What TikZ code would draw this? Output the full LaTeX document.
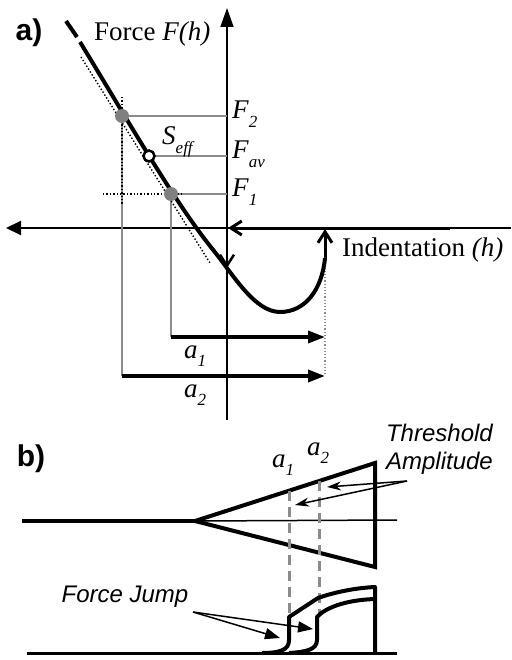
\documentclass[tikz,border=0pt]{standalone}
\usepackage{fontspec}
\setmainfont{Liberation Serif}
\setsansfont{Liberation Sans}
\usetikzlibrary{arrows.meta}
\newcommand\lsub[1]{\raisebox{-0.32em}{\fontsize{17}{20}\selectfont\itshape #1}}
\tikzset{
  lbl/.style={inner sep=0pt, font=\fontsize{27}{30}\selectfont},
  sanslbl/.style={inner sep=0pt, font=\fontsize{24}{28}\selectfont\sffamily\itshape},
  panel/.style={inner sep=0pt, font=\fontsize{30}{34}\selectfont\sffamily\bfseries},
  curve/.style={line width=4pt, line join=round},
  gline/.style={draw=black!45, line width=1.2pt},
  dotline/.style={dotted, line width=1.4pt},
  barb/.style={-{Straight Barb[length=11pt,width=14pt]}},
  bigtri/.style={-{Triangle[length=17pt,width=12pt]}},
  gdash/.style={draw=black!45, line width=3pt, dash pattern=on 10pt off 6pt},
  thinarrow/.style={line width=1.5pt, -{Stealth[length=14pt,width=9pt]}},
  jumparrow/.style={line width=1.5pt, -{Triangle[length=15pt,width=11pt]}}
}
\begin{document}
\begin{tikzpicture}[x=1pt,y=-1pt]
\useasboundingbox (0,0) rectangle (511,660);
% ---------- panel a ----------
\coordinate (O) at (227,228);
\coordinate (Vtop) at (227,8);
\coordinate (Vbot) at (227,420);
\coordinate (Hleft) at (6,228);
\coordinate (Hright) at (511,228);
\coordinate (Hthick) at (450,228);
\coordinate (Up) at (325,258);
\coordinate (UpTip) at (325,229);
\coordinate (Rj) at (325,228);
\coordinate (OTip) at (228,228);
\coordinate (Down) at (227,268);
\coordinate (P2) at (122,116);
\coordinate (Pav) at (149,156);
\coordinate (P1) at (171,194);
\coordinate (Ax2) at (227,116);
\coordinate (Axav) at (227,156);
\coordinate (Ax1) at (227,194);
\coordinate (A1s) at (171,337);
\coordinate (A1e) at (325,337);
\coordinate (A2s) at (122,376);
\coordinate (A2e) at (325,376);

% axes
\draw[line width=1.5pt, -{Triangle[length=19pt,width=13pt]}] (Vbot) -- (Vtop);
\draw[line width=2pt, -{Triangle[length=15pt,width=14pt]}] (O) -- (Hleft);
\draw[line width=1.5pt] (O) -- (Hright);
\draw[line width=3pt] (Rj) -- (Hthick);
\draw[line width=3pt, barb] (Rj) -- (OTip);
\draw[line width=2.5pt, barb] (O) -- (Down);

% grey construction lines
\draw[gline] (P2) -- (Ax2);
\draw[gline] (Pav) -- (Axav);
\draw[gline] (P1) -- (Ax1);
\draw[gline] (P2) -- (A2s);
\draw[gline] (P1) -- (A1s);
\draw[draw=black!45, dotted, line width=1.2pt] (Up) -- (A2e);

% dotted tangent and crosshair
\draw[dotline] (81,57) -- (210,263);
\draw[dotline] (122,97) -- (122,205);
\draw[dotline] (103,194) -- (182,194);

% main curve
\draw[curve] (66,21) -- (77,37);
\draw[curve] (80,42) .. controls (130,124) and (175,203) .. (214,251)
   .. controls (234,276) and (255,312) .. (280,312)
   .. controls (305,312) and (322,290) .. (Up);
\draw[line width=3pt, barb] (Up) -- (UpTip);

% points
\fill[black!50] (P2) circle (7pt);
\fill[black!50] (P1) circle (7pt);
\draw[line width=2.5pt, fill=white] (Pav) circle (5.5pt);

% a1, a2 arrows
\draw[line width=3.5pt, bigtri] (A1s) -- (A1e);
\draw[line width=3.5pt, bigtri] (A2s) -- (A2e);

% labels
\node[panel] (la) at (29,33) {a)};
\node[lbl, anchor=west] (lforce) at (94,34) {Force \textit{F(h)}};
\node[lbl, anchor=west] (lind) at (342,250) {Indentation \textit{(h)}};
\node[lbl, anchor=west] (lF2) at (232,114) {\textit{F}\lsub{2}};
\node[lbl, anchor=west] (lFav) at (232,154) {\textit{F}\lsub{av}};
\node[lbl, anchor=west] (lF1) at (232,192) {\textit{F}\lsub{1}};
\node[lbl, anchor=west] (lS) at (162,142) {\textit{S}\lsub{eff}};
\node[lbl] (la1) at (195,356) {\textit{a}\lsub{1}};
\node[lbl] (la2) at (195,395) {\textit{a}\lsub{2}};

% ---------- panel b ----------
\node[panel] (lb) at (31,459) {b)};
\coordinate (Apex) at (195,521);
\coordinate (TR) at (375,463);
\coordinate (BR) at (375,567);
\draw[line width=4pt] (22,521) -- (Apex);
\draw[line width=4pt, line join=miter] (TR) -- (Apex) -- (BR) -- cycle;
\draw[line width=1.5pt] (Apex) -- (397,520);

\draw[gdash] (289,491) -- (289,616);
\draw[gdash] (319,481) -- (319,616);

\draw[line width=3pt] (27,653) -- (397,653);
\draw[line width=4pt, line join=round] (262,653) .. controls (280,653) and (289,650) .. (289,640)
   -- (289,617) -- (318,598) .. controls (335,592) and (355,588) .. (375,587) -- (375,653);
\draw[line width=4pt, line join=round] (289,653) .. controls (305,652) and (317,650) .. (317,640)
   -- (317,617) .. controls (325,608) and (345,600) .. (375,599);

\node[lbl] (lba1) at (283,465) {\textit{a}\lsub{1}};
\node[lbl] (lba2) at (318,453) {\textit{a}\lsub{2}};

\node[sanslbl, anchor=east, align=right] (thr) at (493,449) {Threshold\\Amplitude};
\coordinate (ThrS) at (407,481);
\draw[thinarrow] (ThrS) -- (327,487);
\draw[thinarrow] (ThrS) -- (295,505);

\node[sanslbl] (fj) at (125,597) {Force Jump};
\coordinate (FjS) at (193,612);
\draw[jumparrow] (FjS) -- (280,638);
\draw[jumparrow] (FjS) -- (313,629);
\end{tikzpicture}
\end{document}
